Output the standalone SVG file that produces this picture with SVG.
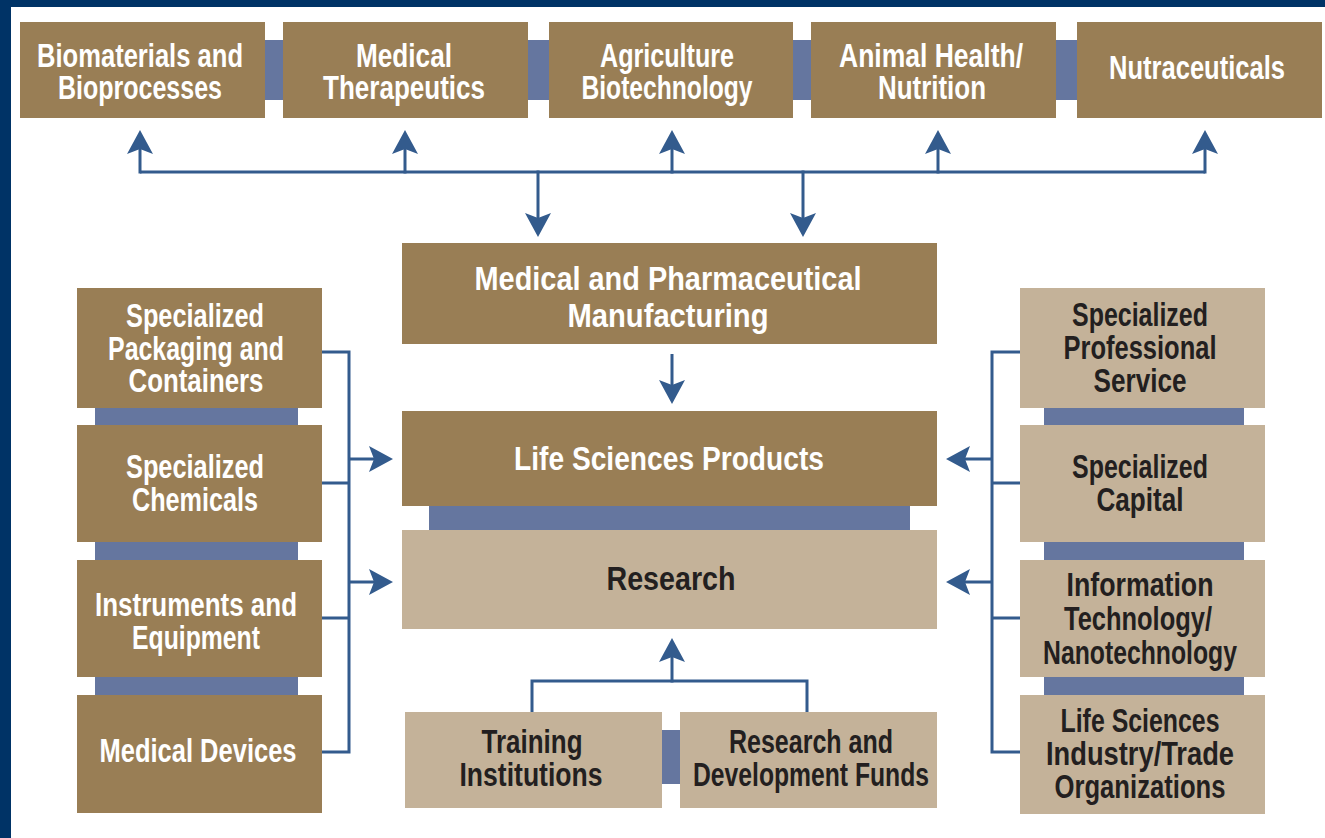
<svg xmlns="http://www.w3.org/2000/svg" width="1325" height="838" viewBox="0 0 1325 838">
  <style>
    .dark { fill: #997E55; }
    .light { fill: #C4B299; }
    .bar { fill: #65769F; }
    .wire { fill: none; stroke: #335B8D; stroke-width: 3; }
    .arrow { fill: none; stroke: #335B8D; stroke-width: 3; marker-end: url(#head); }
    text { font-family: "Liberation Sans", Arial, sans-serif; font-weight: bold; font-size: 34px; text-anchor: middle; }
    .w { fill: #FFFFFF; }
    .k { fill: #231F20; }
  </style>
  <defs>
    <marker id="head" markerUnits="userSpaceOnUse" viewBox="0 -14 25 28" markerWidth="25" markerHeight="28" refX="12" refY="0" orient="auto">
      <path d="M24,0 L0,-13 L5,0 L0,13 Z" fill="#335B8D"/>
    </marker>
  </defs>

  <!-- page background and frame edges -->
  <rect x="0" y="0" width="1325" height="838" fill="#FFFFFF"/>
  <rect x="0" y="0" width="1325" height="7" fill="#003366"/>
  <rect x="0" y="0" width="11" height="838" fill="#003366"/>

  <!-- joining bars between adjacent boxes -->
  <g id="bars">
    <rect class="bar" x="264" y="40" width="20" height="60"/>
    <rect class="bar" x="527" y="40" width="23" height="60"/>
    <rect class="bar" x="792" y="40" width="20" height="60"/>
    <rect class="bar" x="1055" y="40" width="23" height="60"/>
    <rect class="bar" x="95" y="407" width="203" height="19"/>
    <rect class="bar" x="95" y="541" width="203" height="20"/>
    <rect class="bar" x="95" y="676" width="203" height="20"/>
    <rect class="bar" x="1044" y="407" width="200" height="19"/>
    <rect class="bar" x="1044" y="541" width="200" height="20"/>
    <rect class="bar" x="1044" y="676" width="200" height="20"/>
    <rect class="bar" x="429" y="505" width="481" height="26"/>
    <rect class="bar" x="661" y="730" width="20" height="54"/>
  </g>

  <!-- connectors -->
  <g id="connectors">
    <!-- top bus and branches -->
    <path class="wire" d="M140,172 H1205"/>
    <path class="arrow" d="M140,173.5 V142"/>
    <path class="arrow" d="M405,173.5 V142"/>
    <path class="arrow" d="M672,173.5 V142"/>
    <path class="arrow" d="M938,173.5 V142"/>
    <path class="arrow" d="M1205,173.5 V142"/>
    <path class="arrow" d="M538,170.5 V225"/>
    <path class="arrow" d="M803,170.5 V225"/>
    <!-- manufacturing to products -->
    <path class="arrow" d="M672,354 V392"/>
    <!-- left column bus -->
    <path class="wire" d="M322,352 H349 M322,483 H349 M322,618 H349 M322,752 H349 M349,350.5 V753.5"/>
    <path class="arrow" d="M349,459 H381"/>
    <path class="arrow" d="M349,582 H381"/>
    <!-- right column bus -->
    <path class="wire" d="M1020,352 H992 M1020,483 H992 M1020,618 H992 M1020,752 H992 M992,350.5 V753.5"/>
    <path class="arrow" d="M992,459 H958"/>
    <path class="arrow" d="M992,582 H958"/>
    <!-- bottom funders to research -->
    <path class="wire" d="M532,712 V681 H807 V712"/>
    <path class="arrow" d="M672,682.5 V650"/>
  </g>

  <!-- top row -->
  <g id="biomaterials">
    <rect class="dark" x="20" y="22" width="245" height="96"/>
    <text class="w" x="140" y="67" textLength="206" lengthAdjust="spacingAndGlyphs">Biomaterials and</text>
    <text class="w" x="140" y="99" textLength="164" lengthAdjust="spacingAndGlyphs">Bioprocesses</text>
  </g>
  <g id="therapeutics">
    <rect class="dark" x="283" y="22" width="245" height="96"/>
    <text class="w" x="404" y="67" textLength="96" lengthAdjust="spacingAndGlyphs">Medical</text>
    <text class="w" x="404" y="99" textLength="162" lengthAdjust="spacingAndGlyphs">Therapeutics</text>
  </g>
  <g id="agriculture">
    <rect class="dark" x="549" y="22" width="244" height="96"/>
    <text class="w" x="667" y="67" textLength="134" lengthAdjust="spacingAndGlyphs">Agriculture</text>
    <text class="w" x="667" y="99" textLength="171" lengthAdjust="spacingAndGlyphs">Biotechnology</text>
  </g>
  <g id="animal-health">
    <rect class="dark" x="811" y="22" width="245" height="96"/>
    <text class="w" x="931" y="67" textLength="184" lengthAdjust="spacingAndGlyphs">Animal Health/</text>
    <text class="w" x="932" y="99" textLength="108" lengthAdjust="spacingAndGlyphs">Nutrition</text>
  </g>
  <g id="nutraceuticals">
    <rect class="dark" x="1077" y="22" width="245" height="96"/>
    <text class="w" x="1197" y="79" textLength="176" lengthAdjust="spacingAndGlyphs">Nutraceuticals</text>
  </g>

  <!-- centre column -->
  <g id="manufacturing">
    <rect class="dark" x="402" y="243" width="535" height="101"/>
    <text class="w" x="668" y="290" textLength="387" lengthAdjust="spacingAndGlyphs">Medical and Pharmaceutical</text>
    <text class="w" x="668" y="327" textLength="201" lengthAdjust="spacingAndGlyphs">Manufacturing</text>
  </g>
  <g id="products">
    <rect class="dark" x="402" y="411" width="535" height="95"/>
    <text class="w" x="669" y="470" textLength="310" lengthAdjust="spacingAndGlyphs">Life Sciences Products</text>
  </g>
  <g id="research">
    <rect class="light" x="402" y="530" width="535" height="99"/>
    <text class="k" x="671" y="590" textLength="129" lengthAdjust="spacingAndGlyphs">Research</text>
  </g>

  <!-- left column -->
  <g id="packaging">
    <rect class="dark" x="77" y="288" width="245" height="120"/>
    <text class="w" x="195" y="327" textLength="138" lengthAdjust="spacingAndGlyphs">Specialized</text>
    <text class="w" x="196" y="360" textLength="176" lengthAdjust="spacingAndGlyphs">Packaging and</text>
    <text class="w" x="196" y="392" textLength="135" lengthAdjust="spacingAndGlyphs">Containers</text>
  </g>
  <g id="chemicals">
    <rect class="dark" x="77" y="425" width="245" height="117"/>
    <text class="w" x="195" y="478" textLength="138" lengthAdjust="spacingAndGlyphs">Specialized</text>
    <text class="w" x="195" y="511" textLength="126" lengthAdjust="spacingAndGlyphs">Chemicals</text>
  </g>
  <g id="instruments">
    <rect class="dark" x="77" y="560" width="245" height="117"/>
    <text class="w" x="196" y="616" textLength="202" lengthAdjust="spacingAndGlyphs">Instruments and</text>
    <text class="w" x="196" y="649" textLength="128" lengthAdjust="spacingAndGlyphs">Equipment</text>
  </g>
  <g id="devices">
    <rect class="dark" x="77" y="695" width="245" height="118"/>
    <text class="w" x="198" y="762" textLength="197" lengthAdjust="spacingAndGlyphs">Medical Devices</text>
  </g>

  <!-- right column -->
  <g id="professional">
    <rect class="light" x="1020" y="288" width="245" height="120"/>
    <text class="k" x="1140" y="326" textLength="136" lengthAdjust="spacingAndGlyphs">Specialized</text>
    <text class="k" x="1140" y="359" textLength="153" lengthAdjust="spacingAndGlyphs">Professional</text>
    <text class="k" x="1140" y="392" textLength="93" lengthAdjust="spacingAndGlyphs">Service</text>
  </g>
  <g id="capital">
    <rect class="light" x="1020" y="425" width="245" height="117"/>
    <text class="k" x="1140" y="478" textLength="136" lengthAdjust="spacingAndGlyphs">Specialized</text>
    <text class="k" x="1140" y="511" textLength="87" lengthAdjust="spacingAndGlyphs">Capital</text>
  </g>
  <g id="it-nano">
    <rect class="light" x="1020" y="560" width="245" height="117"/>
    <text class="k" x="1140" y="596" textLength="147" lengthAdjust="spacingAndGlyphs">Information</text>
    <text class="k" x="1138" y="630" textLength="148" lengthAdjust="spacingAndGlyphs">Technology/</text>
    <text class="k" x="1140" y="664" textLength="194" lengthAdjust="spacingAndGlyphs">Nanotechnology</text>
  </g>
  <g id="trade-orgs">
    <rect class="light" x="1020" y="695" width="245" height="119"/>
    <text class="k" x="1140" y="732" textLength="159" lengthAdjust="spacingAndGlyphs">Life Sciences</text>
    <text class="k" x="1140" y="765" textLength="188" lengthAdjust="spacingAndGlyphs">Industry/Trade</text>
    <text class="k" x="1140" y="798" textLength="171" lengthAdjust="spacingAndGlyphs">Organizations</text>
  </g>

  <!-- bottom row -->
  <g id="training">
    <rect class="light" x="405" y="712" width="257" height="96"/>
    <text class="k" x="532" y="753" textLength="101" lengthAdjust="spacingAndGlyphs">Training</text>
    <text class="k" x="531" y="786" textLength="143" lengthAdjust="spacingAndGlyphs">Institutions</text>
  </g>
  <g id="rd-funds">
    <rect class="light" x="680" y="712" width="257" height="96"/>
    <text class="k" x="811" y="753" textLength="164" lengthAdjust="spacingAndGlyphs">Research and</text>
    <text class="k" x="811" y="786" textLength="236" lengthAdjust="spacingAndGlyphs">Development Funds</text>
  </g>
</svg>
